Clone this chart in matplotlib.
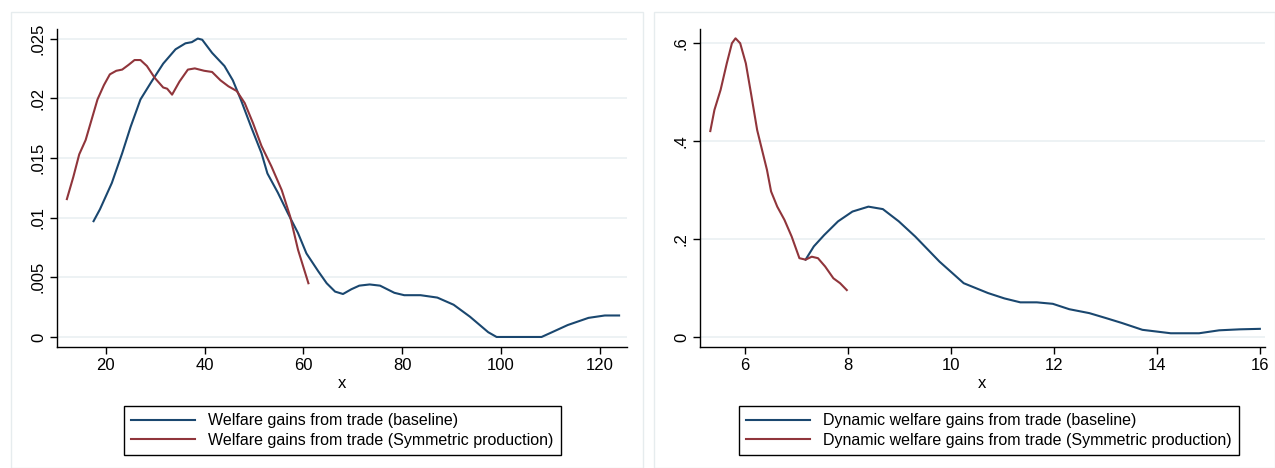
import matplotlib.pyplot as plt
from matplotlib.patches import Rectangle

plt.rcParams['font.family'] = ['Liberation Sans', 'DejaVu Sans']

# left panel: welfare gains from trade
base_x = [17.5, 18.8, 21.2, 23.3, 25.0, 27.0, 29.1, 31.6, 34.1, 36.1, 37.4, 38.6, 39.5,
          41.5, 44.0, 45.7, 47.3, 49.4, 51.5, 52.7, 54.8, 56.8, 58.9, 60.6, 63.0, 64.7,
          66.4, 68.0, 69.7, 71.3, 73.4, 75.5, 78.4, 80.4, 83.7, 87.1, 90.4, 93.7, 97.4,
          99.1, 108.2, 109.8, 113.5, 117.7, 121.0, 123.9]
base_y = [0.0097, 0.0107, 0.0129, 0.0154, 0.0176, 0.0199, 0.0213, 0.0229, 0.0241, 0.0246,
          0.0247, 0.0250, 0.0249, 0.0238, 0.0227, 0.0215, 0.0199, 0.0176, 0.0154, 0.0137,
          0.0121, 0.0104, 0.0087, 0.0070, 0.0055, 0.0045, 0.0038, 0.0036, 0.0040, 0.0043,
          0.0044, 0.0043, 0.0037, 0.0035, 0.0035, 0.0033, 0.0027, 0.0017, 0.0004, 0.0,
          0.0, 0.0003, 0.0010, 0.0016, 0.0018, 0.0018]
sym_x = [12.1, 13.4, 14.6, 15.9, 17.1, 18.3, 19.6, 20.8, 22.1, 23.3, 24.6, 25.8, 27.0,
         28.3, 29.9, 31.6, 32.4, 33.4, 34.9, 36.6, 38.0, 39.9, 41.5, 43.2, 44.8, 46.5,
         48.1, 49.8, 51.5, 53.5, 55.6, 57.3, 58.9, 61.0]
sym_y = [0.01155, 0.0134, 0.0153, 0.0165, 0.0182, 0.0199, 0.0211, 0.0220, 0.0223, 0.0224,
         0.0228, 0.0232, 0.0232, 0.0227, 0.0217, 0.0209, 0.0208, 0.0203, 0.0214, 0.0224,
         0.0225, 0.0223, 0.0222, 0.0215, 0.0210, 0.0206, 0.0196, 0.0179, 0.0160, 0.0143,
         0.0123, 0.0101, 0.0073, 0.0045]

# right panel: dynamic welfare gains
dyn_base_x = [7.18, 7.34, 7.54, 7.81, 8.09, 8.40, 8.68, 8.99, 9.31, 9.78, 10.25, 10.72,
              11.04, 11.35, 11.67, 11.98, 12.30, 12.69, 13.01, 13.32, 13.72, 14.27, 14.82,
              15.21, 15.61, 16.0]
dyn_base_y = [0.158, 0.185, 0.208, 0.236, 0.256, 0.266, 0.261, 0.236, 0.205, 0.154, 0.110,
              0.090, 0.079, 0.071, 0.071, 0.068, 0.057, 0.049, 0.039, 0.029, 0.015, 0.008,
              0.008, 0.014, 0.016, 0.017]
dyn_sym_x = [5.33, 5.41, 5.53, 5.65, 5.75, 5.82, 5.91, 6.02, 6.12, 6.24, 6.35, 6.43, 6.51,
             6.63, 6.77, 6.91, 7.06, 7.18, 7.30, 7.42, 7.56, 7.72, 7.85, 7.98]
dyn_sym_y = [0.420, 0.463, 0.504, 0.558, 0.599, 0.609, 0.599, 0.558, 0.497, 0.422, 0.375,
             0.341, 0.297, 0.266, 0.239, 0.205, 0.161, 0.158, 0.164, 0.161, 0.144, 0.120,
             0.110, 0.096]

left_ticks = [0, 0.005, 0.01, 0.015, 0.02, 0.025]
left_labels = ['0', '.005', '.01', '.015', '.02', '.025']
right_ticks = [0, 0.2, 0.4, 0.6]
right_labels = ['0', '.2', '.4', '.6']

navy = '#1a476f'
maroon = '#90353b'
grid_col = '#eaf0f2'
tick_fs = 12
leg_fs = 11.5

fig = plt.figure(figsize=(12.75, 4.68), dpi=100)

# light panel frames
for x0, x1 in [(11, 643), (654, 1275)]:
    fig.patches.append(Rectangle((x0 / 1275, 0), (x1 - x0) / 1275, 1 - 12 / 468,
                                 transform=fig.transFigure, fill=False,
                                 edgecolor='#e6ecee', linewidth=1))

ax1 = fig.add_axes([57 / 1275, 1 - 347 / 468, (627 - 57) / 1275, (347 - 29) / 468])
ax2 = fig.add_axes([700 / 1275, 1 - 347 / 468, (1265 - 700) / 1275, (347 - 29) / 468])

ax1.plot(base_x, base_y, color=navy, lw=1.5, label='Welfare gains from trade (baseline)')
ax1.plot(sym_x, sym_y, color=maroon, lw=1.5,
         label='Welfare gains from trade (Symmetric production)')
ax1.set_xlim(10.1, 125.5)
ax1.set_ylim(-0.00084, 0.0258)
ax1.set_xticks([20, 40, 60, 80, 100, 120])
ax1.set_yticks(left_ticks)
ax1.set_yticklabels(left_labels)

ax2.plot(dyn_base_x, dyn_base_y, color=navy, lw=1.5,
         label='Dynamic welfare gains from trade (baseline)')
ax2.plot(dyn_sym_x, dyn_sym_y, color=maroon, lw=1.5,
         label='Dynamic welfare gains from trade (Symmetric production)')
ax2.set_xlim(5.13, 16.1)
ax2.set_ylim(-0.02, 0.628)
ax2.set_xticks([6, 8, 10, 12, 14, 16])
ax2.set_yticks(right_ticks)
ax2.set_yticklabels(right_labels)

for ax, cx in [(ax1, 342.5), (ax2, 989)]:
    ax.spines['top'].set_visible(False)
    ax.spines['right'].set_visible(False)
    ax.spines['left'].set_linewidth(1)
    ax.spines['bottom'].set_linewidth(1)
    ax.grid(axis='y', color=grid_col, lw=1.2)
    ax.set_axisbelow(True)
    ax.tick_params(axis='both', labelsize=tick_fs, length=5, width=1, direction='out',
                   pad=3)
    for lab in ax.get_yticklabels():
        lab.set_rotation(90)
        lab.set_va('center')
    ax.set_xlabel('x', fontsize=tick_fs, labelpad=2)
    leg = ax.legend(loc='upper center', bbox_to_anchor=(cx / 1275, 1 - 398 / 468),
                    bbox_transform=fig.transFigure, fontsize=leg_fs, fancybox=False,
                    edgecolor='black', framealpha=1, handlelength=4.0,
                    borderpad=0.45, labelspacing=0.3, handletextpad=0.8)
    leg.get_frame().set_linewidth(1)

fig.savefig('out.png', dpi=100)
